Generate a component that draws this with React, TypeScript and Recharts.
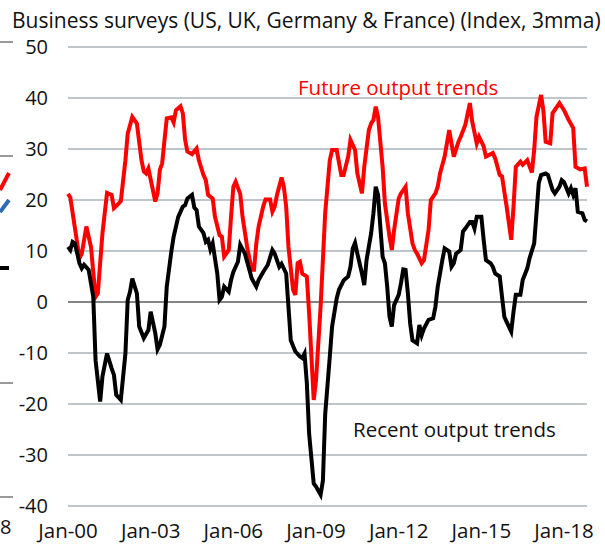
import { CartesianGrid, Line, LineChart, ReferenceLine, XAxis, YAxis } from 'recharts'

// months counted from Jan-00
const futureMonths = [0, 1, 5, 6, 8, 10, 12, 13, 15, 17, 19, 20, 22, 23, 25, 26, 28, 30, 32, 33, 34, 35, 38, 39, 40, 41, 43, 45, 46, 47, 49, 50, 51, 52, 54, 56, 57, 59, 60, 61, 63, 64, 66, 67, 68, 70, 71, 72, 73, 75, 76, 78, 80, 81, 82, 83, 85, 86, 88, 89, 90, 91, 93, 94, 95, 96, 98, 99, 100, 101, 102, 104, 105, 107, 108, 110, 112, 114, 115, 117, 119, 120, 122, 123, 125, 126, 128, 129, 131, 132, 133, 134, 135, 137, 138, 140, 141, 142, 144, 145, 147, 148, 150, 151, 152, 154, 155, 157, 158, 160, 161, 162, 164, 166, 168, 170, 171, 173, 175, 176, 178, 179, 181, 182, 185, 186, 188, 189, 191, 193, 194, 195, 197, 198, 200, 202, 203, 204, 206, 207, 208, 210, 211, 214, 216, 218, 220, 221, 223, 225, 226]
const futureValues = [21.2, 20.5, 8.6, 9.5, 14.8, 10.8, 1.0, 1.7, 13.5, 21.4, 21.0, 18.4, 19.3, 19.8, 27.8, 33, 36.3, 35, 27.8, 25.6, 25.2, 26.2, 19.7, 21.3, 25.9, 27.2, 36, 36.2, 35.2, 37.6, 38.4, 37, 31.8, 29.5, 29, 30.1, 27.8, 24.9, 23.9, 21, 20.3, 16.7, 13.1, 12.8, 8.9, 10.2, 16.7, 22.6, 23.6, 21.2, 16.7, 10.8, 6.3, 6.3, 11.5, 14.8, 18.7, 20.1, 20.1, 17.7, 18.7, 21, 24.4, 22.6, 18.7, 10.8, 2.4, 1.4, 7.6, 7.9, 5.6, 5, -2.2, -19.2, -15.3, -0.9, 17.5, 27.8, 29.8, 29.8, 24.9, 24.9, 28.5, 31.8, 29.8, 25.2, 21.3, 26.5, 33.7, 35, 35.7, 38.3, 36.3, 26.5, 19.3, 12.8, 10.2, 14.1, 20.3, 21.3, 22.6, 17.4, 11.5, 10.2, 9.5, 7.6, 8.2, 14.1, 20, 21.3, 22.6, 25.2, 28.5, 33.7, 28.5, 31.4, 32.4, 34.7, 39, 35.4, 31.1, 32.4, 30.5, 28.5, 29.2, 28.2, 24.9, 24.6, 18.7, 12.2, 18.7, 26.5, 27.5, 26.9, 27.8, 25.4, 29.8, 36.3, 40.6, 37.6, 31.4, 31.1, 37, 39, 37.6, 35.7, 34.1, 26.5, 26, 26.2, 22.6]

const recentMonths = [0, 1, 2, 3, 5, 6, 7, 9, 11, 12, 14, 15, 17, 19, 20, 21, 23, 25, 26, 27, 28, 30, 31, 33, 35, 36, 38, 39, 40, 42, 43, 45, 46, 48, 50, 51, 52, 54, 55, 56, 57, 59, 60, 61, 62, 63, 65, 66, 67, 68, 70, 71, 72, 74, 75, 77, 79, 80, 82, 83, 85, 87, 89, 90, 92, 93, 95, 96, 97, 99, 101, 102, 103, 104, 105, 107, 108, 110, 111, 112, 114, 115, 117, 118, 120, 122, 123, 124, 125, 126, 128, 129, 130, 132, 133, 134, 135, 136, 137, 138, 139, 140, 141, 142, 144, 145, 146, 147, 148, 149, 150, 152, 153, 154, 155, 157, 159, 160, 161, 163, 164, 166, 167, 168, 169, 171, 172, 173, 175, 176, 177, 178, 180, 181, 182, 184, 185, 186, 188, 189, 190, 191, 193, 194, 195, 197, 198, 200, 201, 203, 204, 205, 206, 208, 209, 211, 212, 214, 215, 216, 218, 219, 220, 221, 222, 224, 225, 226]
const recentValues = [10.8, 10.2, 11.8, 11.5, 7.6, 6.6, 7.3, 6.3, 1, -11.4, -19.5, -14.6, -10.1, -13, -14.3, -18.2, -19.2, -10.1, 0.4, 2, 4.6, 1.7, -4.8, -7.1, -5.5, -1.9, -6.1, -9.3, -8.4, -4.8, 3, 9.9, 12.8, 16.7, 18.7, 19, 20.3, 21, 18.5, 18, 14.8, 13.5, 11.8, 12.2, 10.3, 11.5, 5.6, 0.4, 1, 3, 2, 4.3, 5.9, 7.9, 11.2, 9.5, 6.3, 4.6, 3, 4.3, 5.9, 7.3, 10.2, 9.5, 6.9, 7.5, 5.6, -0.9, -7.5, -9.7, -10.7, -11, -10.1, -15.9, -25.8, -35.6, -36.2, -37.8, -35, -22, -10.7, -4.8, 0.7, 2.4, 4.2, 5, 6.9, 10.5, 11.6, 9.5, 5.6, 3.3, 8.2, 13.5, 17.4, 22.6, 21, 14.8, 8.9, 7.6, 3, -2.9, -4.8, -0.6, 1.4, 3.7, 6.4, 6.3, 1.7, -4.2, -7.5, -8.1, -4.5, -6.5, -5.2, -3.5, -3.2, -0.9, 3, 8.2, 10.5, 9.9, 6.9, 7.6, 9.5, 10.2, 13.8, 14.4, 15.7, 15.7, 14.4, 16.7, 16.7, 12.2, 8.2, 7.6, 6.9, 5.6, 5, 1, -2.9, -3.9, -5.8, -1.9, 1.4, 1.4, 4.3, 6.6, 8.6, 11.5, 17.4, 23.3, 24.9, 25.2, 24.9, 22, 21.3, 22.6, 23.9, 23.5, 21.3, 22.3, 21, 22.3, 17.7, 17.4, 16.1, 15.8]

const xTicks = [0, 36, 72, 108, 144, 180, 216]
const xTickLabels = ['Jan-00', 'Jan-03', 'Jan-06', 'Jan-09', 'Jan-12', 'Jan-15', 'Jan-18']
const yTicks = [-40, -30, -20, -10, 0, 10, 20, 30, 40, 50]

const FONT = '"Open Sans", "Noto Sans", sans-serif'

const future = futureMonths.map((m, i) => ({ m, v: futureValues[i] }))
const recent = recentMonths.map((m, i) => ({ m, v: recentValues[i] }))

export default function App() {
  return (
    <div style={{ position: 'fixed', left: 0, top: 0, width: 605, height: 545, background: '#fff', fontFamily: FONT }}>
      <LineChart width={605} height={545} margin={{ top: 47, right: 18, bottom: 0, left: 0 }}>
        <CartesianGrid vertical={false} stroke="#aab3ba" strokeWidth={1.3} />
        <XAxis
          type="number"
          dataKey="m"
          domain={[0, 226]}
          ticks={xTicks}
          tickFormatter={(v: number) => xTickLabels[xTicks.indexOf(v)] ?? ''}
          axisLine={false}
          tickLine={false}
          tickSize={6}
          tickMargin={11}
          height={39}
          tick={{ fontSize: 20.5, fill: '#111', fontFamily: FONT }}
          interval={0}
        />
        <YAxis
          type="number"
          domain={[-40, 50]}
          ticks={yTicks}
          axisLine={false}
          tickLine={false}
          tickSize={6}
          tickMargin={14}
          width={68}
          tick={{ fontSize: 20, fill: '#111', fontFamily: FONT }}
        />
        <ReferenceLine y={0} stroke="#6e6e6e" strokeWidth={1.5} />
        <Line data={future} dataKey="v" type="linear" stroke="#ff0000" strokeWidth={4} dot={false} isAnimationActive={false} />
        <Line data={recent} dataKey="v" type="linear" stroke="#000000" strokeWidth={4} dot={false} isAnimationActive={false} />
      </LineChart>
      <svg width={605} height={545} style={{ position: 'absolute', left: 0, top: 0, pointerEvents: 'none' }}>
        <text x={12} y={28} fontSize={21} fill="#111" fontFamily={FONT}>
          Business surveys (US, UK, Germany &amp; France) (Index, 3mma)
        </text>
        <text x={298} y={95} fontSize={20.5} fill="#ff0000" fontFamily={FONT}>Future output trends</text>
        <text x={353} y={437} fontSize={20.5} fill="#111" fontFamily={FONT}>Recent output trends</text>
        {/* bits of the neighbouring chart at the left edge */}
        <g stroke="#9a9a9a" strokeWidth={2}>
          <line x1={0} y1={42} x2={13} y2={42} />
          <line x1={0} y1={156} x2={13} y2={156} />
          <line x1={0} y1={383} x2={13} y2={383} />
          <line x1={0} y1={497} x2={13} y2={497} />
        </g>
        <line x1={0} y1={190} x2={9} y2={173} stroke="#ff0000" strokeWidth={4} />
        <line x1={0} y1={212} x2={9} y2={200} stroke="#2e6db4" strokeWidth={4} />
        <line x1={0} y1={268} x2={9} y2={268} stroke="#000" strokeWidth={4} />
        <text x={0} y={534} fontSize={20} fill="#111" fontFamily={FONT}>8</text>
      </svg>
    </div>
  )
}
